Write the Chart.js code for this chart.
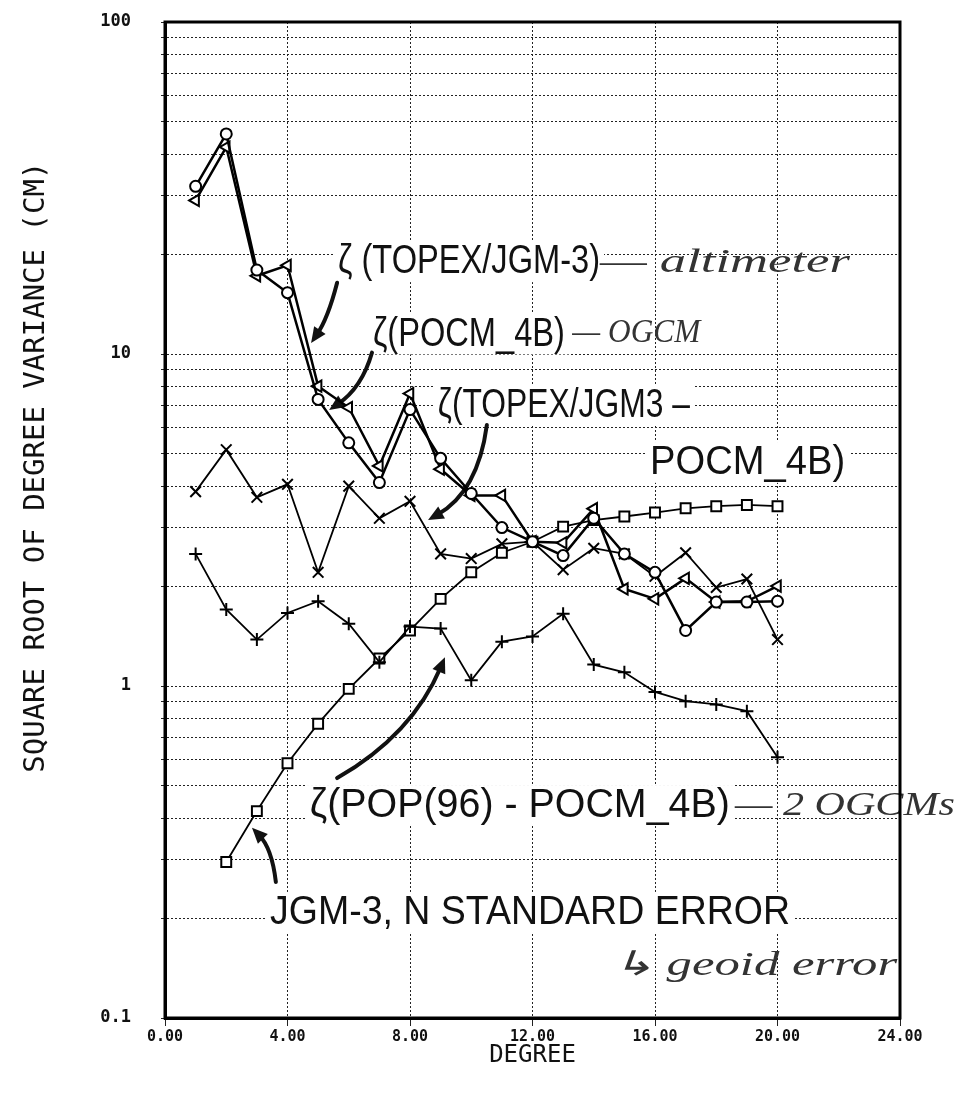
<!DOCTYPE html>
<html>
<head>
<meta charset="utf-8">
<script src="https://cdn.jsdelivr.net/npm/chart.js@4.4.0/dist/chart.umd.min.js"></script>
<style>
  html, body { margin: 0; padding: 0; background: #fff; }
</style>
</head>
<body>
<canvas id="myCanvas" width="959" height="1104"></canvas>
<script>
// degree of the harmonic expansion
const degrees = [1, 2, 3, 4, 5, 6, 7, 8, 9, 10, 11, 12, 13, 14, 15, 16, 17, 18, 19, 20];
// circles
const topexJgm3 = [32, 46, 17.9, 15.3, 7.3, 5.4, 4.1, 6.8, 4.85, 3.8, 3.0, 2.72, 2.47, 3.2, 2.5, 2.2, 1.47, 1.79, 1.79, 1.8];
// triangles
const pocm4b = [29, 42, 17.2, 18.5, 8.0, 6.9, 4.6, 7.6, 4.5, 3.75, 3.75, 2.72, 2.7, 3.42, 1.96, 1.83, 2.11, 1.79, 1.8, 2.0];
// x marks
const topexMinusPocm = [3.85, 5.15, 3.7, 4.05, 2.2, 4.0, 3.2, 3.6, 2.5, 2.42, 2.68, 2.72, 2.24, 2.6, 2.5, 2.14, 2.52, 1.98, 2.1, 1.38];
// plus marks
const popMinusPocm = [2.5, 1.7, 1.38, 1.66, 1.8, 1.54, 1.18, 1.51, 1.49, 1.04, 1.36, 1.41, 1.65, 1.16, 1.1, 0.96, 0.9, 0.88, 0.84, 0.61];
// squares, geoid error starts at degree 2
const geoidDegrees = [2, 3, 4, 5, 6, 7, 8, 9, 10, 11, 12, 13, 14, 15, 16, 17, 18, 19, 20];
const jgm3Error = [0.295, 0.42, 0.585, 0.77, 0.98, 1.21, 1.47, 1.83, 2.2, 2.52, 2.72, 3.02, 3.16, 3.24, 3.33, 3.43, 3.48, 3.51, 3.48];

const xTicks = [0, 4, 8, 12, 16, 20, 24];
const yGridLines = [0.1, 0.2, 0.3, 0.4, 0.5, 0.6, 0.7, 0.8, 0.9, 1, 2, 3, 4, 5, 6, 7, 8, 9, 10, 20, 30, 40, 50, 60, 70, 80, 90, 100];
const yTickLabels = [0.1, 1, 10, 100];

// typed labels, anchored in data units (degree, cm) at the baseline start
const labels = [
  { text: 'ζ (TOPEX/JGM-3)', x: 5.65, y: 17.5, size: 40, w: 262 },
  { text: 'ζ(POCM_4B)', x: 6.79, y: 10.6, size: 40, w: 192 },
  { text: 'ζ(TOPEX/JGM3 –', x: 8.91, y: 6.46, size: 40, w: 252 },
  { text: 'POCM_4B)', x: 15.84, y: 4.35, size: 40, w: 195 },
  { text: 'ζ(POP(96) - POCM_4B)', x: 4.73, y: 0.403, size: 40, w: 420 },
  { text: 'JGM-3, N STANDARD ERROR', x: 3.43, y: 0.192, size: 40, w: 520 }
];
// hand written notes
const notes = [
  { text: '— altimeter', x: 14.2, y: 17.7, size: 34, w: 250 },
  { text: '— OGCM', x: 13.3, y: 10.9, size: 34, w: 128 },
  { text: '— 2 OGCMs', x: 18.61, y: 0.41, size: 34, w: 220 },
  { text: '↳ geoid error', x: 14.6, y: 0.135, size: 34, w: 285 }
];
// curved arrows: from, via (control point), to
const arrows = [
  { from: [5.62, 16.4], via: [5.32, 12.8], to: [4.77, 10.8] },
  { from: [6.76, 10.1], via: [6.43, 7.9], to: [5.36, 6.78] },
  { from: [10.51, 6.11], via: [10.22, 3.84], to: [8.59, 3.16] },
  { from: [5.62, 0.528], via: [8.07, 0.712], to: [9.14, 1.22] },
  { from: [3.62, 0.257], via: [3.49, 0.325], to: [2.84, 0.374] }
];

function pts(xs, ys) {
  return xs.map((x, i) => ({ x: x, y: ys[i] }));
}

function series(data, style, radius, rot, width) {
  return {
    data: data,
    borderColor: '#000',
    borderWidth: width,
    pointStyle: style,
    pointRadius: radius,
    pointRotation: rot,
    pointBorderWidth: 2,
    pointBorderColor: '#000',
    pointBackgroundColor: '#fff',
    tension: 0,
    fill: false
  };
}

const paperPlugin = {
  id: 'paper',
  beforeDatasetsDraw(chart) {
    const ctx = chart.ctx, xs = chart.scales.x, ys = chart.scales.y;
    ctx.save();
    ctx.setLineDash([]);
    labels.forEach(n => {
      const px = xs.getPixelForValue(n.x), py = ys.getPixelForValue(n.y);
      ctx.fillStyle = '#fff';
      ctx.fillRect(px - 4, py - n.size * 0.8, n.w + 8, n.size * 1.02);
      ctx.font = n.size + 'px "Liberation Sans", Arial, sans-serif';
      const m = ctx.measureText(n.text).width;
      ctx.save();
      ctx.translate(px, py);
      ctx.scale(n.w / m, 1);
      ctx.fillStyle = '#111';
      ctx.textBaseline = 'alphabetic';
      ctx.fillText(n.text, 0, 0);
      ctx.restore();
    });
    notes.forEach(n => {
      const px = xs.getPixelForValue(n.x), py = ys.getPixelForValue(n.y);
      ctx.font = 'italic ' + n.size + 'px "Liberation Serif", serif';
      const m = ctx.measureText(n.text).width;
      ctx.save();
      ctx.translate(px, py);
      ctx.scale(n.w / m, 1);
      ctx.fillStyle = '#333';
      ctx.fillText(n.text, 0, 0);
      ctx.restore();
    });
    arrows.forEach(a => {
      const x0 = xs.getPixelForValue(a.from[0]), y0 = ys.getPixelForValue(a.from[1]);
      const cx = xs.getPixelForValue(a.via[0]), cy = ys.getPixelForValue(a.via[1]);
      const x1 = xs.getPixelForValue(a.to[0]), y1 = ys.getPixelForValue(a.to[1]);
      const ang = Math.atan2(y1 - cy, x1 - cx);
      const head = 17;
      ctx.strokeStyle = '#111';
      ctx.lineWidth = 4;
      ctx.lineCap = 'round';
      ctx.beginPath();
      ctx.moveTo(x0, y0);
      ctx.quadraticCurveTo(cx, cy, x1 - Math.cos(ang) * head * 0.6, y1 - Math.sin(ang) * head * 0.6);
      ctx.stroke();
      ctx.fillStyle = '#111';
      ctx.beginPath();
      ctx.moveTo(x1, y1);
      ctx.lineTo(x1 - head * Math.cos(ang - 0.42), y1 - head * Math.sin(ang - 0.42));
      ctx.lineTo(x1 - head * Math.cos(ang + 0.42), y1 - head * Math.sin(ang + 0.42));
      ctx.closePath();
      ctx.fill();
    });
    ctx.restore();
  },
  afterDraw(chart) {
    const ctx = chart.ctx, a = chart.chartArea;
    ctx.save();
    ctx.setLineDash([]);
    ctx.strokeStyle = '#000';
    ctx.lineWidth = 3;
    ctx.strokeRect(a.left, a.top, a.right - a.left, a.bottom - a.top);
    // y axis title
    ctx.translate(36, a.top + (a.bottom - a.top) * 0.447);
    ctx.rotate(-Math.PI / 2);
    ctx.font = '29px "DejaVu Sans Mono", monospace';
    ctx.fillStyle = '#111';
    ctx.textAlign = 'center';
    ctx.textBaseline = 'middle';
    ctx.fillText('SQUARE ROOT OF DEGREE VARIANCE (CM)', 0, 0);
    ctx.restore();
  }
};

Chart.defaults.font.family = '"DejaVu Sans Mono", monospace';
Chart.defaults.color = '#111';

const canvas = document.getElementById('myCanvas');
new Chart(canvas, {
  type: 'line',
  data: {
    datasets: [
      series(pts(degrees, topexJgm3), 'circle', 5.5, 0, 2.5),
      series(pts(degrees, pocm4b), 'triangle', 6.5, 270, 2.5),
      series(pts(degrees, topexMinusPocm), 'crossRot', 7.5, 0, 1.8),
      series(pts(degrees, popMinusPocm), 'cross', 6.5, 0, 1.8),
      series(pts(geoidDegrees, jgm3Error), 'rect', 7, 0, 1.8)
    ]
  },
  options: {
    responsive: false,
    animation: false,
    devicePixelRatio: 1,
    layout: { padding: { top: 22, right: 59, left: 0, bottom: 32 } },
    plugins: { legend: { display: false }, tooltip: { enabled: false } },
    scales: {
      x: {
        type: 'linear',
        min: 0, max: 24,
        afterBuildTicks: s => { s.ticks = xTicks.map(v => ({ value: v })); },
        afterFit: s => { s.height = 54; },
        ticks: {
          autoSkip: false,
          maxRotation: 0,
          padding: 2,
          font: { size: 15, weight: 'bold' },
          callback: v => v.toFixed(2)
        },
        grid: { color: '#222', lineWidth: 1, tickLength: 8, tickBorderDash: [] },
        border: { display: true, color: '#000', width: 3, dash: [2, 2] },
        title: { display: true, text: 'DEGREE', font: { size: 24 }, padding: { top: 0, bottom: 2 } }
      },
      y: {
        type: 'logarithmic',
        min: 0.1, max: 100,
        afterBuildTicks: s => { s.ticks = yGridLines.map(v => ({ value: v })); },
        afterFit: s => { s.width = 165; s.paddingTop = 0; s.paddingBottom = 0; },
        ticks: {
          autoSkip: false,
          padding: 30,
          font: { size: 17, weight: 'bold' },
          callback: v => yTickLabels.indexOf(v) >= 0 ? String(v) : ''
        },
        grid: { color: '#222', lineWidth: 1, tickLength: 4, tickBorderDash: [] },
        border: { display: true, color: '#000', width: 3, dash: [2, 2] }
      }
    }
  },
  plugins: [paperPlugin]
});
</script>
</body>
</html>
